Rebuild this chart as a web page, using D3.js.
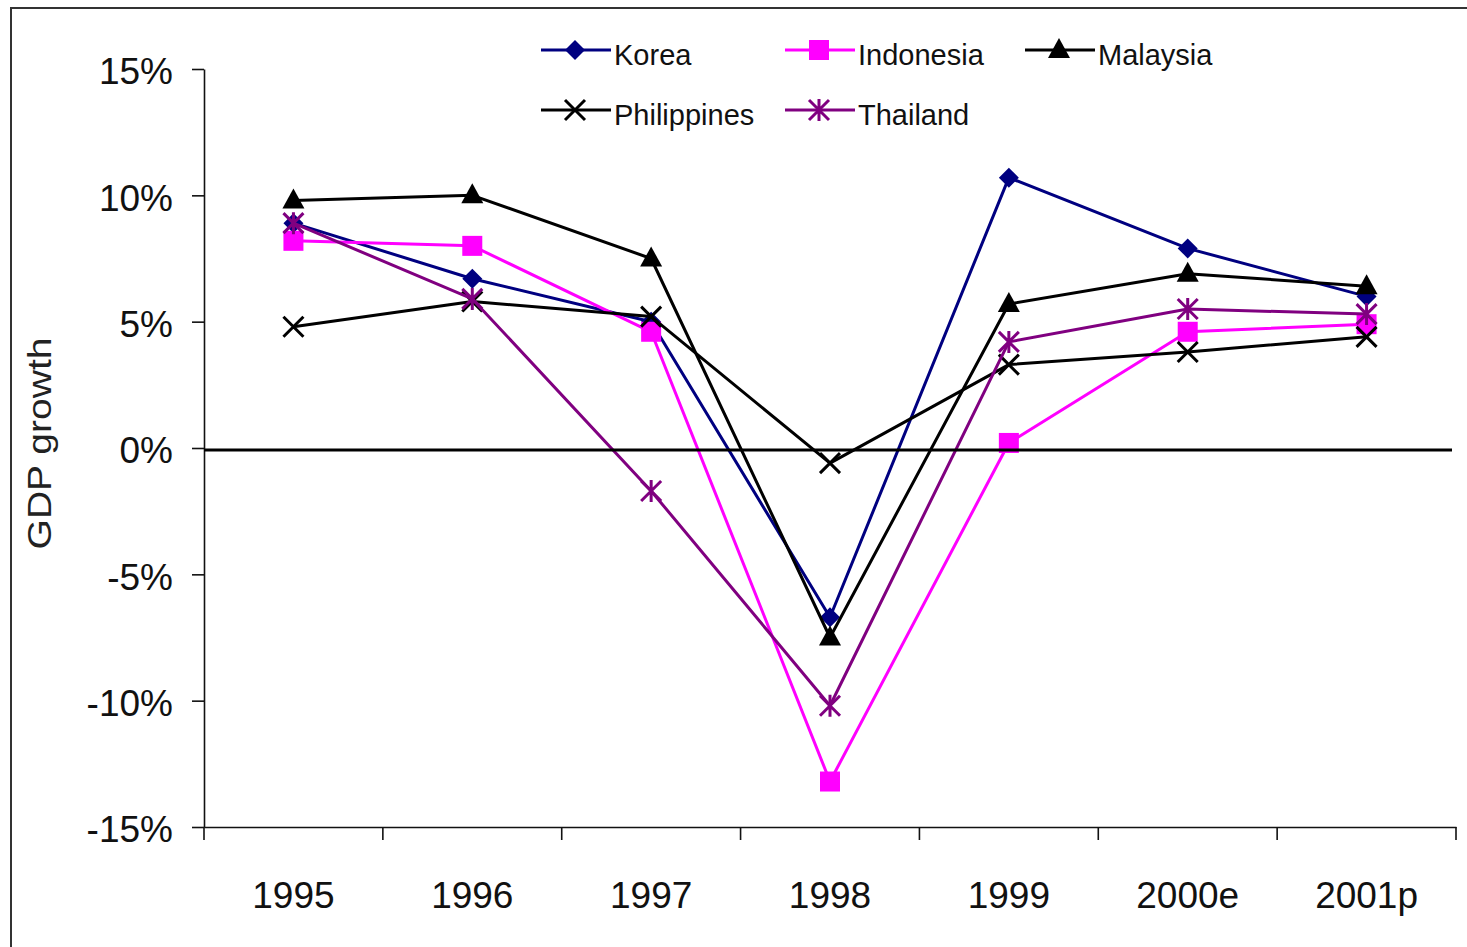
<!DOCTYPE html>
<html>
<head>
<meta charset="utf-8">
<script src="https://cdn.jsdelivr.net/npm/d3@7"></script>
<style>
  html, body { margin: 0; padding: 0; background: #fff; }
  svg { display: block; font-family: "Liberation Sans", Arial, sans-serif; }
</style>
</head>
<body>
<svg id="chart" width="1467" height="947"></svg>
<script>
// Real GDP growth (%), 1995–2001 (e = estimate, p = projection)
const years = ["1995", "1996", "1997", "1998", "1999", "2000e", "2001p"];
const korea       = [8.9, 6.7, 5.0, -6.7, 10.7, 7.9, 6.0];
const indonesia   = [8.2, 8.0, 4.6, -13.2, 0.2, 4.6, 4.9];
const malaysia    = [9.8, 10.0, 7.5, -7.5, 5.7, 6.9, 6.4];
const philippines = [4.8, 5.8, 5.2, -0.6, 3.3, 3.8, 4.4];
const thailand    = [8.9, 5.9, -1.7, -10.2, 4.2, 5.5, 5.3];
const yTicks = [-15, -10, -5, 0, 5, 10, 15];

const series = [
  { name: "Korea",       values: korea,       color: "#000080", marker: "diamond" },
  { name: "Indonesia",   values: indonesia,   color: "#ff00ff", marker: "square" },
  { name: "Malaysia",    values: malaysia,    color: "#000000", marker: "triangle" },
  { name: "Philippines", values: philippines, color: "#000000", marker: "cross" },
  { name: "Thailand",    values: thailand,    color: "#800080", marker: "star" }
];

const svg = d3.select("#chart");
const W = 1467, H = 947;
const plot = { left: 204, right: 1456, top: 69, bottom: 827 };

// outer frame
svg.append("path")
  .attr("d", `M11,${H + 5} L11,8 L${W + 5},8`)
  .attr("fill", "none").attr("stroke", "#333").attr("stroke-width", 2);

const x = d3.scaleBand().domain(years).range([plot.left, plot.right]).padding(0);
const y = d3.scaleLinear().domain([-15, 15]).range([plot.bottom, plot.top]);
const cx = d => x(d) + x.bandwidth() / 2;

// y axis
const yAxis = svg.append("g")
  .attr("transform", `translate(${plot.left},0)`)
  .call(d3.axisLeft(y).tickValues(yTicks).tickSize(12).tickSizeOuter(0).tickPadding(19)
    .tickFormat(d => d + "%"));
yAxis.selectAll("text").attr("font-size", 37).attr("fill", "#111").attr("dy", "0.4em")
  .attr("font-family", "Liberation Sans, Arial, sans-serif");
yAxis.selectAll("line, path").attr("stroke", "#111").attr("stroke-width", 1.6);

// x axis: labels centred in each category, ticks on category boundaries
const xAxis = svg.append("g")
  .attr("transform", `translate(0,${plot.bottom})`)
  .call(d3.axisBottom(x).tickSize(0).tickSizeOuter(0).tickPadding(55));
xAxis.selectAll("text").attr("font-size", 37).attr("fill", "#111")
  .attr("font-family", "Liberation Sans, Arial, sans-serif");
xAxis.select(".domain").attr("stroke", "#111").attr("stroke-width", 1.6);
const bounds = years.map(d => x(d)).concat([x(years[years.length - 1]) + x.bandwidth()]);
xAxis.selectAll(".bound").data(bounds).join("line")
  .attr("class", "bound")
  .attr("x1", d => d).attr("x2", d => d)
  .attr("y1", 0).attr("y2", 13)
  .attr("stroke", "#111").attr("stroke-width", 1.6);

// y axis title
svg.append("text")
  .attr("transform", `translate(51,${(337 + 550) / 2}) rotate(-90)`)
  .attr("text-anchor", "middle")
  .attr("font-size", 34)
  .attr("textLength", 212).attr("lengthAdjust", "spacingAndGlyphs")
  .attr("fill", "#222")
  .text("GDP growth");

// marker shapes
function drawMarker(g, type, color, px, py) {
  const s = 10;
  if (type === "diamond") {
    g.append("path").attr("d", `M${px},${py - s} L${px + s},${py} L${px},${py + s} L${px - s},${py} Z`)
      .attr("fill", color);
  } else if (type === "square") {
    g.append("rect").attr("x", px - s).attr("y", py - s).attr("width", 2 * s).attr("height", 2 * s)
      .attr("fill", color);
  } else if (type === "triangle") {
    g.append("path").attr("d", `M${px},${py - s - 2} L${px + s + 1},${py + s - 2} L${px - s - 1},${py + s - 2} Z`)
      .attr("fill", color);
  } else if (type === "cross") {
    g.append("path").attr("d", `M${px - s},${py - s} L${px + s},${py + s} M${px - s},${py + s} L${px + s},${py - s}`)
      .attr("stroke", color).attr("stroke-width", 3).attr("fill", "none");
  } else if (type === "star") {
    g.append("path").attr("d", `M${px - s},${py - s} L${px + s},${py + s} M${px - s},${py + s} L${px + s},${py - s} M${px},${py - s - 1} L${px},${py + s + 1}`)
      .attr("stroke", color).attr("stroke-width", 3).attr("fill", "none");
  }
}

const line = d3.line().x((d, i) => cx(years[i])).y(d => y(d));

series.forEach(s => {
  const g = svg.append("g").attr("class", "series");
  g.append("path").datum(s.values)
    .attr("d", line)
    .attr("fill", "none")
    .attr("stroke", s.color)
    .attr("stroke-width", 3)
    .attr("stroke-linejoin", "round");
  s.values.forEach((v, i) => drawMarker(g, s.marker, s.color, cx(years[i]), y(v)));
});

// zero reference line
svg.append("line")
  .attr("x1", plot.left).attr("x2", plot.right - 4)
  .attr("y1", y(0) + 2).attr("y2", y(0) + 2)
  .attr("stroke", "#000").attr("stroke-width", 3);

// legend
const legendPos = [
  { x: 541, y: 50 }, { x: 785, y: 50 }, { x: 1025, y: 50 },
  { x: 541, y: 110 }, { x: 785, y: 110 }
];
series.forEach((s, i) => {
  const p = legendPos[i];
  const g = svg.append("g").attr("class", "legend-item");
  g.append("line")
    .attr("x1", p.x).attr("x2", p.x + 70)
    .attr("y1", p.y).attr("y2", p.y)
    .attr("stroke", s.color).attr("stroke-width", 3);
  drawMarker(g, s.marker, s.color, p.x + 34, p.y);
  g.append("text")
    .attr("x", p.x + 73).attr("y", p.y + 15)
    .attr("font-size", 29).attr("fill", "#111")
    .text(s.name);
});
</script>
</body>
</html>
